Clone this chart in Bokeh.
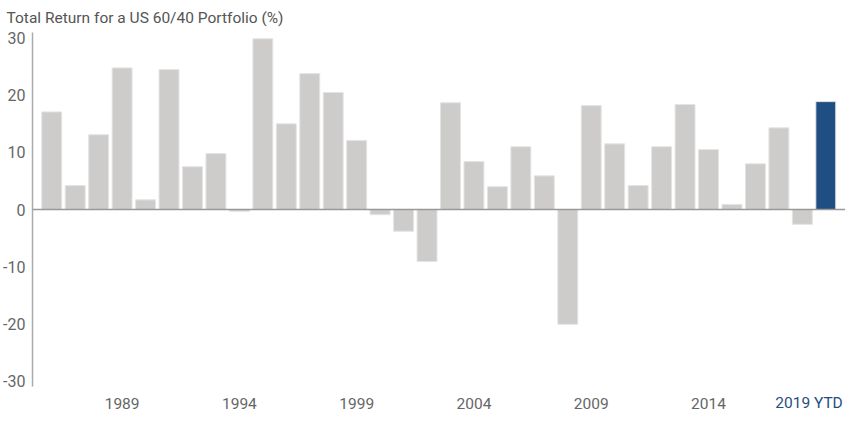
from bokeh.plotting import figure
from bokeh.models import ColumnDataSource, FixedTicker, Span
from bokeh.core.properties import value
from bokeh.embed import file_html
from bokeh.resources import INLINE

years = list(range(1986, 2020))
returns = [17.1, 4.2, 13.1, 24.8, 1.7, 24.5, 7.5, 9.8, -0.3, 29.9,
           15.0, 23.8, 20.5, 12.1, -0.9, -3.8, -9.1, 18.7, 8.4, 4.0,
           11.0, 5.9, -20.1, 18.2, 11.5, 4.2, 11.0, 18.4, 10.5, 0.9,
           8.0, 14.3, -2.6, 18.9]
tick_years = [1989, 1994, 1999, 2004, 2009, 2014, 2019]
tick_labels = ["1989", "1994", "1999", "2004", "2009", "2014", "2019 YTD"]
y_ticks = [-30, -20, -10, 0, 10, 20, 30]
y_tick_labels = ["-30", "-20", "-10", "0", "10", "20", "30"]
title_text = "Total Return for a US 60/40 Portfolio (%)"

FONT = "Roboto"
GREY = "#cdcccb"
BLUE = "#1f4e82"
LABEL_GREY = "#666666"

Y_LO, Y_HI = -31, 31

colors = [GREY] * (len(years) - 1) + [BLUE]
src = ColumnDataSource(dict(x=years, top=returns, color=colors))

p = figure(width=845, height=413, output_backend="svg", toolbar_location=None,
           x_axis_location=None,
           x_range=(1985.18, 2019.84), y_range=(Y_LO - 4.72, Y_HI),
           min_border_left=0, min_border_right=0, min_border_top=0, min_border_bottom=0)
p.title.text = title_text
p.title.text_font = FONT
p.title.text_font_size = "15.5px"
p.title.text_font_style = "normal"
p.title.text_color = "#555555"
p.title.offset = -26
p.title.standoff = 12

p.vbar(x="x", top="top", bottom=0, width=0.85, fill_color="color",
       line_color="#e4e4e4", line_width=1, source=src)

p.add_layout(Span(location=0, dimension="width", line_color="#999999", line_width=1.5))

p.grid.visible = False
p.outline_line_color = None
p.background_fill_color = "white"

p.yaxis.ticker = FixedTicker(ticks=y_ticks)
p.yaxis.major_label_overrides = {t: s for t, s in zip(y_ticks, y_tick_labels)}
p.yaxis.bounds = (Y_LO, Y_HI)
p.yaxis.axis_line_color = "#aaaaaa"
p.yaxis.axis_line_width = 1.5
p.yaxis.major_tick_line_color = None
p.yaxis.major_tick_out = 0
p.yaxis.major_tick_in = 0
p.yaxis.minor_tick_line_color = None
p.yaxis.major_label_text_font = FONT
p.yaxis.major_label_text_font_size = "16px"
p.yaxis.major_label_text_color = LABEL_GREY
p.yaxis.major_label_standoff = 7

label_colors = [LABEL_GREY] * (len(tick_years) - 1) + [BLUE]
label_align = ["center"] * (len(tick_years) - 1) + ["right"]
label_shift = [0] * (len(tick_years) - 1) + [17]
lab_src = ColumnDataSource(dict(x=tick_years, y=[Y_LO - 2.95] * len(tick_years),
                                text=tick_labels, color=label_colors,
                                align=label_align, dx=label_shift))
p.text(x="x", y="y", text="text", text_color="color", text_align="align",
       x_offset="dx", source=lab_src, text_baseline="middle",
       text_font=value(FONT), text_font_size="15.5px")

open("out.html", "w").write(file_html(p, INLINE))
